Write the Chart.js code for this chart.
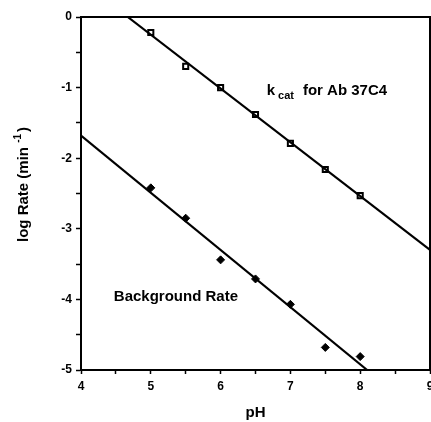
<!DOCTYPE html>
<html>
<head>
<meta charset="utf-8">
<script src="https://cdn.jsdelivr.net/npm/chart.js@4/dist/chart.umd.min.js"></script>
<style>
  html, body { margin: 0; padding: 0; background: #fff; }
  #wrap { width: 431px; height: 422px; position: relative; }
</style>
</head>
<body>
<div id="wrap"><canvas id="c" width="431" height="422"></canvas></div>
<script>
// ---- data ----
const phValues = [5, 5.5, 6, 6.5, 7, 7.5, 8];
const kcatLogRate = [-0.22, -0.70, -1.00, -1.38, -1.79, -2.16, -2.53];
const backgroundLogRate = [-2.42, -2.85, -3.44, -3.71, -4.07, -4.68, -4.81];
const kcatFitPh = [4.67, 9];
const kcatFitLogRate = [0, -3.30];
const backgroundFitPh = [4, 8.10];
const backgroundFitLogRate = [-1.68, -5];
const xTickLabels = [4, 5, 6, 7, 8, 9];
const yTickLabels = [0, -1, -2, -3, -4, -5];
const kcatLabelAt = [6.66, -1.04];
const backgroundLabelAt = [4.47, -3.97];

const toPts = (xs, ys) => xs.map((x, i) => ({ x: x, y: ys[i] }));
const FONT = '"Liberation Sans", Arial, Helvetica, sans-serif';

const framePlugin = {
  id: 'frame',
  afterDraw(chart) {
    const { ctx, chartArea: a, scales } = chart;
    ctx.save();
    ctx.strokeStyle = '#000';
    ctx.lineWidth = 2;
    ctx.beginPath();
    ctx.moveTo(a.left, a.top);
    ctx.lineTo(a.right, a.top);
    ctx.lineTo(a.right, a.bottom);
    ctx.stroke();

    ctx.fillStyle = '#000';
    ctx.textBaseline = 'middle';
    // kcat label
    let x = scales.x.getPixelForValue(kcatLabelAt[0]);
    let y = scales.y.getPixelForValue(kcatLabelAt[1]);
    ctx.textAlign = 'left';
    ctx.font = 'bold 15px ' + FONT;
    ctx.fillText('k', x, y);
    x += ctx.measureText('k').width + 3;
    ctx.font = 'bold 11px ' + FONT;
    ctx.fillText('cat', x, y + 6);
    x += ctx.measureText('cat').width + 9;
    ctx.font = 'bold 15px ' + FONT;
    ctx.fillText('for Ab 37C4', x, y);

    // background label
    x = scales.x.getPixelForValue(backgroundLabelAt[0]);
    y = scales.y.getPixelForValue(backgroundLabelAt[1]);
    ctx.font = 'bold 15px ' + FONT;
    ctx.fillText('Background Rate', x, y);

    // y axis title (rotated, with superscript)
    const yc = (a.top + a.bottom) / 2 - 9;
    ctx.save();
    ctx.translate(24, yc);
    ctx.rotate(-Math.PI / 2);
    const p1 = 'log Rate (min ';
    const p2 = '-1';
    const p3 = ')';
    ctx.font = 'bold 15px ' + FONT;
    const w1 = ctx.measureText(p1).width;
    const w3 = ctx.measureText(p3).width;
    ctx.font = 'bold 10px ' + FONT;
    const w2 = ctx.measureText(p2).width;
    const total = w1 + w2 + w3 + 2;
    let tx = -total / 2;
    ctx.textAlign = 'left';
    ctx.font = 'bold 15px ' + FONT;
    ctx.fillText(p1, tx, 0);
    tx += w1;
    ctx.font = 'bold 10px ' + FONT;
    ctx.fillText(p2, tx, -6);
    tx += w2 + 2;
    ctx.font = 'bold 15px ' + FONT;
    ctx.fillText(p3, tx, 0);
    ctx.restore();
    ctx.restore();
  }
};

new Chart(document.getElementById('c'), {
  type: 'scatter',
  data: {
    datasets: [
      {
        label: 'kcat fit',
        data: toPts(kcatFitPh, kcatFitLogRate),
        showLine: true, borderColor: '#000', borderWidth: 2.2,
        pointRadius: 0, fill: false
      },
      {
        label: 'background fit',
        data: toPts(backgroundFitPh, backgroundFitLogRate),
        showLine: true, borderColor: '#000', borderWidth: 2.2,
        pointRadius: 0, fill: false
      },
      {
        label: 'kcat for Ab 37C4',
        data: toPts(phValues, kcatLogRate),
        pointStyle: 'rect', pointRadius: 3.6,
        backgroundColor: '#fff', borderColor: '#000', pointBorderWidth: 2
      },
      {
        label: 'Background Rate',
        data: toPts(phValues, backgroundLogRate),
        pointStyle: 'rectRot', pointRadius: 4,
        backgroundColor: '#000', borderColor: '#000', pointBorderWidth: 1
      }
    ]
  },
  options: {
    responsive: false,
    animation: false,
    layout: { autoPadding: false, padding: { top: 17, right: 1, left: 0, bottom: 0 } },
    plugins: { legend: { display: false }, tooltip: { enabled: false } },
    scales: {
      x: {
        type: 'linear', min: 4, max: 9,
        afterFit(s) { s.height = 52; s.paddingLeft = 0; s.paddingRight = 0; },
        afterBuildTicks(s) {
          const t = [];
          for (let v = 4; v <= 9.001; v += 0.5) t.push({ value: v });
          s.ticks = t;
        },
        ticks: {
          autoSkip: false, maxRotation: 0, padding: 5, color: '#000',
          font: { family: FONT, size: 12, weight: 'bold' },
          callback: (v) => xTickLabels.includes(v) ? String(v) : ''
        },
        grid: { drawOnChartArea: false, tickLength: 4, color: '#000', tickWidth: 1.5 },
        border: { display: true, color: '#000', width: 2 },
        title: { display: true, text: 'pH', color: '#000', padding: { top: 12, bottom: 0 },
                 font: { family: FONT, size: 15, weight: 'bold' } }
      },
      y: {
        type: 'linear', min: -5, max: 0,
        afterFit(s) { s.width = 81; s.paddingTop = 0; s.paddingBottom = 0; },
        afterBuildTicks(s) {
          const t = [];
          for (let v = -5; v <= 0.001; v += 0.5) t.push({ value: v });
          s.ticks = t;
        },
        ticks: {
          autoSkip: false, padding: 4, color: '#000',
          font: { family: FONT, size: 12, weight: 'bold' },
          callback: (v) => yTickLabels.includes(v) ? (v === 0 ? '0' : String(v)) : ''
        },
        grid: { drawOnChartArea: false, tickLength: 5, color: '#000', tickWidth: 1.5 },
        border: { display: true, color: '#000', width: 2 }
      }
    }
  },
  plugins: [framePlugin]
});
</script>
</body>
</html>
